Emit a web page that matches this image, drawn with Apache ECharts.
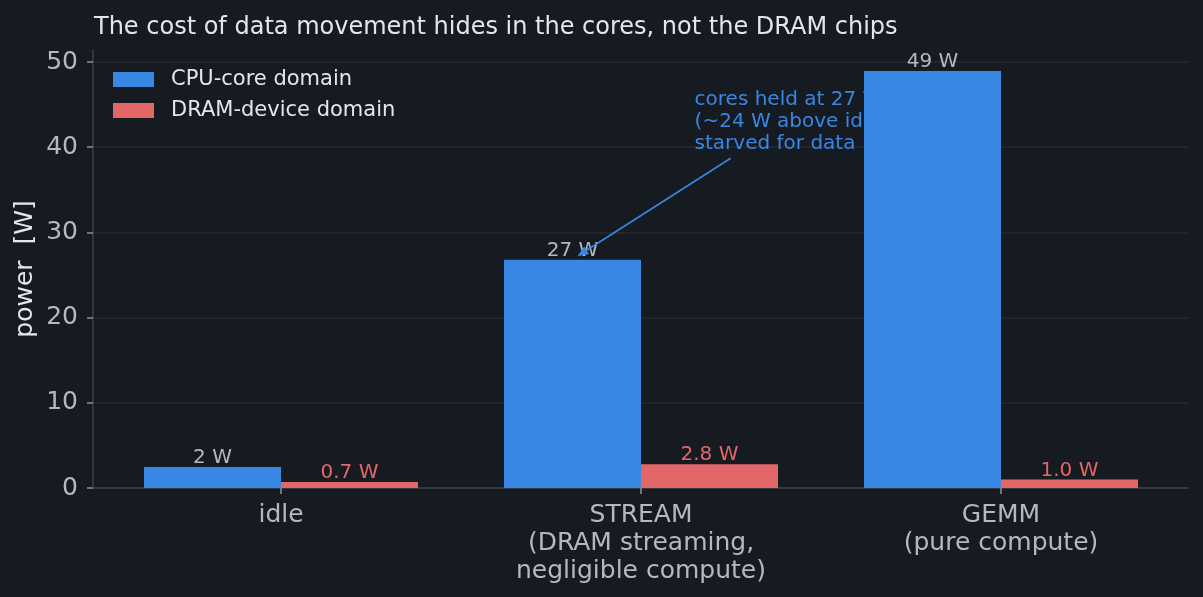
<!DOCTYPE html>
<html>
<head>
<meta charset="utf-8">
<script src="https://cdn.jsdelivr.net/npm/echarts@6/dist/echarts.min.js"></script>
<style>
  html, body { margin: 0; padding: 0; background: #161a21; }
  #chart { width: 1203px; height: 597px; }
</style>
</head>
<body>
<div id="chart"></div>
<script>
// data
const categories = ["idle", "STREAM\n(DRAM streaming,\nnegligible compute)", "GEMM\n(pure compute)"];
const cpuCore = [2.45, 26.8, 48.95];
const dramDevice = [0.7, 2.8, 1.0];
const seriesNames = ["CPU-core domain", "DRAM-device domain"];
const yTicks = [0, 10, 20, 30, 40, 50];

const BG = "#161a21";
const BLUE = "#3987e4";
const RED = "#e46768";
const TICK = "#b4b9c0";
const TEXT = "#e4e6ea";
const SPINE = "#3a3f48";
const FONT = "DejaVu Sans";

const chart = echarts.init(document.getElementById("chart"), null, { renderer: "canvas" });

const yMax = 51.4;
const yTickMax = yTicks[yTicks.length - 1];

const option = {
  backgroundColor: BG,
  animation: false,
  textStyle: { fontFamily: FONT },
  title: {
    text: "The cost of data movement hides in the cores, not the DRAM chips",
    left: 89,
    top: 11,
    textStyle: { color: TEXT, fontSize: 24, fontWeight: "normal", fontFamily: FONT },
  },
  legend: {
    orient: "vertical",
    left: 108,
    top: 64,
    itemWidth: 41,
    itemHeight: 15,
    itemGap: 10,
    icon: "rect",
    data: seriesNames,
    textStyle: { color: TEXT, fontSize: 21, fontFamily: FONT, padding: [0, 0, 0, 12] },
  },
  grid: [
    // spines
    { left: 93, right: 15, top: 50, bottom: 109 },
    // bars
    { left: 101, right: 22, top: 50, bottom: 109 },
    // y ticks + gridlines (0..50)
    { left: 93, right: 15, top: 62, bottom: 109 },
  ],
  xAxis: [
    {
      type: "value",
      gridIndex: 0,
      min: -0.518,
      max: 2.518,
      axisLine: { show: true, onZero: false, lineStyle: { color: SPINE, width: 1.5 } },
      axisTick: { show: false },
      axisLabel: { show: false },
      splitLine: { show: false },
    },
    {
      type: "category",
      gridIndex: 1,
      data: categories,
      axisLine: { show: false },
      axisTick: { show: true, alignWithLabel: true, length: 6, lineStyle: { color: "#8a9099", width: 1.5 } },
      axisLabel: { color: TICK, fontSize: 25, lineHeight: 28, margin: 13, fontFamily: FONT },
    },
    {
      type: "value",
      gridIndex: 2,
      min: 0,
      max: 1,
      show: false,
    },
  ],
  yAxis: [
    {
      type: "value",
      gridIndex: 0,
      min: 0,
      max: yMax,
      name: "power  [W]",
      nameLocation: "middle",
      nameRotate: 90,
      nameGap: 55,
      nameTextStyle: { color: TEXT, fontSize: 25, fontFamily: FONT },
      axisLine: { show: true, onZero: false, lineStyle: { color: SPINE, width: 1.5 } },
      axisTick: { show: false },
      axisLabel: { show: false },
      splitLine: { show: false },
    },
    {
      type: "value",
      gridIndex: 1,
      min: 0,
      max: yMax,
      show: false,
      splitLine: { show: false },
    },
    {
      type: "value",
      gridIndex: 2,
      min: 0,
      max: yTickMax,
      interval: 10,
      axisLine: { show: false, onZero: false },
      axisTick: { show: true, length: 6, lineStyle: { color: "#8a9099", width: 1.5 } },
      axisLabel: { color: TICK, fontSize: 25, margin: 15, fontFamily: FONT },
      splitLine: { show: true, lineStyle: { color: "#262b33", width: 1.5 } },
    },
  ],
  series: [
    {
      name: seriesNames[0],
      type: "bar",
      xAxisIndex: 1,
      yAxisIndex: 1,
      data: cpuCore,
      barWidth: 137,
      barGap: "0%",
      z: 2,
      itemStyle: { color: BLUE },
      label: {
        show: true,
        position: "top",
        distance: -1,
        color: TICK,
        fontSize: 20,
        fontFamily: FONT,
        formatter: p => Math.round(p.value) + " W",
      },
    },
    {
      name: seriesNames[1],
      type: "bar",
      xAxisIndex: 1,
      yAxisIndex: 1,
      data: dramDevice,
      barWidth: 137,
      barGap: "0%",
      z: 2,
      itemStyle: { color: RED },
      label: {
        show: true,
        position: "top",
        distance: -1,
        color: RED,
        fontSize: 20,
        fontFamily: FONT,
        formatter: p => p.value.toFixed(1) + " W",
      },
    },
  ],
};

chart.setOption(option);

// annotation: arrow from text to the STREAM cpu-core bar, placed in data coordinates
const toPx = pt => chart.convertToPixel({ gridIndex: 0 }, pt);
const arrowTail = toPx([1.25, 38.7]);
const arrowHead = toPx([0.825, 27.2]);
const textPos = toPx([1.15, 46.9]);

const dx = arrowHead[0] - arrowTail[0];
const dy = arrowHead[1] - arrowTail[1];
const len = Math.sqrt(dx * dx + dy * dy);
const ux = dx / len, uy = dy / len;
const headLen = 11, headHalf = 4.5;
const base = [arrowHead[0] - ux * headLen, arrowHead[1] - uy * headLen];

chart.setOption({
  graphic: [
    {
      type: "text",
      z: 1,
      x: textPos[0],
      y: textPos[1],
      style: {
        text: "cores held at 27 W\n(~24 W above idle),\nstarved for data",
        fill: BLUE,
        font: "20px '" + FONT + "'",
        lineHeight: 22,
        verticalAlign: "top",
        align: "left",
      },
    },
    {
      type: "line",
      z: 10,
      shape: { x1: arrowTail[0], y1: arrowTail[1], x2: base[0], y2: base[1] },
      style: { stroke: BLUE, lineWidth: 1.6 },
    },
    {
      type: "polygon",
      z: 10,
      shape: {
        points: [
          arrowHead,
          [base[0] - uy * headHalf, base[1] + ux * headHalf],
          [base[0] + uy * headHalf, base[1] - ux * headHalf],
        ],
      },
      style: { fill: BLUE },
    },
  ],
});
</script>
</body>
</html>
